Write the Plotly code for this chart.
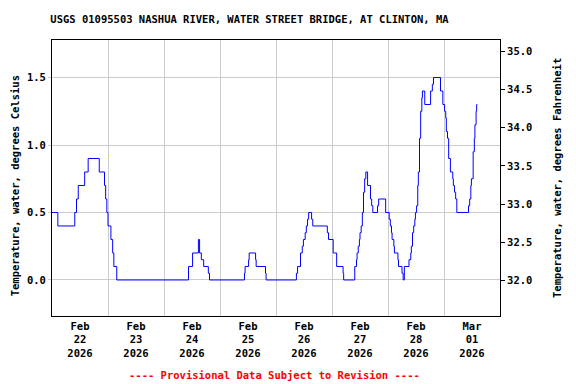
import plotly.graph_objects as go

# Change points of the stepped record (local time) and water temperature (deg C)
times = [
    "2026-02-22 00:00", "2026-02-22 02:30", "2026-02-22 09:45", "2026-02-22 10:30",
    "2026-02-22 11:15", "2026-02-22 14:00", "2026-02-22 15:30", "2026-02-22 20:15",
    "2026-02-22 22:30", "2026-02-22 23:00", "2026-02-22 23:30", "2026-02-23 00:00",
    "2026-02-23 01:15", "2026-02-23 02:00", "2026-02-23 02:30", "2026-02-23 03:45",
    "2026-02-24 10:30", "2026-02-24 12:15", "2026-02-24 14:45", "2026-02-24 15:15",
    "2026-02-24 16:00", "2026-02-24 17:00", "2026-02-24 19:00", "2026-02-24 19:30",
    "2026-02-25 10:30", "2026-02-25 10:45", "2026-02-25 12:15", "2026-02-25 12:30",
    "2026-02-25 15:15", "2026-02-25 15:30", "2026-02-25 19:30", "2026-02-25 19:45",
    "2026-02-26 08:45", "2026-02-26 09:15", "2026-02-26 10:30", "2026-02-26 11:15",
    "2026-02-26 11:45", "2026-02-26 12:30", "2026-02-26 13:00", "2026-02-26 13:30",
    "2026-02-26 14:00", "2026-02-26 15:15", "2026-02-26 15:45", "2026-02-26 22:00",
    "2026-02-26 22:30", "2026-02-27 00:30", "2026-02-27 02:00", "2026-02-27 04:45",
    "2026-02-27 05:00", "2026-02-27 09:45", "2026-02-27 10:30", "2026-02-27 10:45",
    "2026-02-27 11:15", "2026-02-27 11:45", "2026-02-27 12:00", "2026-02-27 12:30",
    "2026-02-27 13:00", "2026-02-27 13:30", "2026-02-27 14:00", "2026-02-27 14:30",
    "2026-02-27 15:15", "2026-02-27 16:30", "2026-02-27 17:00", "2026-02-27 17:30",
    "2026-02-27 19:30", "2026-02-27 20:00", "2026-02-27 23:00", "2026-02-28 00:30",
    "2026-02-28 01:00", "2026-02-28 01:30", "2026-02-28 01:45", "2026-02-28 02:30",
    "2026-02-28 02:45", "2026-02-28 04:15", "2026-02-28 04:30", "2026-02-28 06:00",
    "2026-02-28 06:30", "2026-02-28 07:00", "2026-02-28 09:00", "2026-02-28 09:45",
    "2026-02-28 10:00", "2026-02-28 10:30", "2026-02-28 11:00", "2026-02-28 11:30",
    "2026-02-28 11:45", "2026-02-28 12:15", "2026-02-28 12:45", "2026-02-28 13:00",
    "2026-02-28 13:30", "2026-02-28 14:00", "2026-02-28 14:30", "2026-02-28 14:45",
    "2026-02-28 15:45", "2026-02-28 18:15", "2026-02-28 19:00", "2026-02-28 19:30",
    "2026-02-28 22:30", "2026-02-28 23:30", "2026-03-01 00:15", "2026-03-01 00:45",
    "2026-03-01 01:00", "2026-03-01 01:30", "2026-03-01 02:00", "2026-03-01 02:45",
    "2026-03-01 03:45", "2026-03-01 04:00", "2026-03-01 04:30", "2026-03-01 05:00",
    "2026-03-01 05:30", "2026-03-01 10:30", "2026-03-01 11:00", "2026-03-01 11:30",
    "2026-03-01 11:45", "2026-03-01 12:30", "2026-03-01 13:00", "2026-03-01 13:15",
    "2026-03-01 13:45", "2026-03-01 14:00", "2026-03-01 14:15",
]
temp_c = [
    0.5, 0.4, 0.5, 0.6,
    0.7, 0.8, 0.9, 0.8,
    0.7, 0.6, 0.5, 0.4,
    0.3, 0.2, 0.1, 0.0,
    0.1, 0.2, 0.3, 0.2,
    0.15, 0.1, 0.05, 0.0,
    0.05, 0.1, 0.15, 0.2,
    0.15, 0.1, 0.05, 0.0,
    0.05, 0.1, 0.2, 0.25,
    0.3, 0.35, 0.4, 0.45,
    0.5, 0.45, 0.4, 0.35,
    0.3, 0.2, 0.1, 0.05,
    0.0, 0.1, 0.15, 0.2,
    0.25, 0.3, 0.35, 0.4,
    0.5, 0.65, 0.75, 0.8,
    0.7, 0.6, 0.55, 0.5,
    0.55, 0.6, 0.5, 0.45,
    0.4, 0.35, 0.3, 0.25,
    0.2, 0.15, 0.1, 0.05,
    0.0, 0.1, 0.15, 0.2,
    0.25, 0.35, 0.4, 0.45,
    0.5, 0.55, 0.7, 0.8,
    1.05, 1.25, 1.35, 1.4,
    1.3, 1.4, 1.45, 1.5,
    1.4, 1.3, 1.25, 1.2,
    1.1, 1.05, 0.9, 0.8,
    0.75, 0.7, 0.65, 0.6,
    0.5, 0.55, 0.6, 0.7,
    0.75, 0.95, 1.05, 1.15,
    1.25, 1.3, 1.3,
]
temp_f = [c * 1.8 + 32 for c in temp_c]

tick_dates = ["2026-02-22 12:00", "2026-02-23 12:00", "2026-02-24 12:00", "2026-02-25 12:00",
              "2026-02-26 12:00", "2026-02-27 12:00", "2026-02-28 12:00", "2026-03-01 12:00"]
tick_labels = ["Feb<br>22<br>2026", "Feb<br>23<br>2026", "Feb<br>24<br>2026", "Feb<br>25<br>2026",
               "Feb<br>26<br>2026", "Feb<br>27<br>2026", "Feb<br>28<br>2026", "Mar<br>01<br>2026"]
c_ticks = [0.0, 0.5, 1.0, 1.5]
f_ticks = [32.0, 32.5, 33.0, 33.5, 34.0, 34.5, 35.0]

FONT = "DejaVu Sans Mono"
fs = 10.5
OFF = 8  # page body margin offset
W, H = 576 - OFF, 384 - OFF

fig = go.Figure()
fig.add_trace(go.Scatter(x=times, y=temp_c, mode="lines", line=dict(color="#0000ff", width=1, shape="hv"),
                         showlegend=False, hoverinfo="x+y"))
fig.add_trace(go.Scatter(x=times, y=temp_f, mode="lines", yaxis="y2", line=dict(color="rgba(0,0,0,0)", width=0, shape="hv"),
                         showlegend=False, hoverinfo="skip"))

fig.update_layout(
    width=W, height=H,
    margin=dict(l=52 - OFF, r=W - (52 - OFF) - 448, t=40 - OFF, b=68, pad=0),
    paper_bgcolor="white", plot_bgcolor="white",
    font=dict(family=FONT, size=fs, color="black", weight="bold"),
    title=dict(text="USGS 01095503 NASHUA RIVER, WATER STREET BRIDGE, AT CLINTON, MA",
               x=(249.5 - OFF) / W, xref="container", xanchor="center",
               y=1 - (19 - OFF) / H, yref="container", yanchor="middle",
               font=dict(family=FONT, size=fs, color="black", weight="bold")),
    xaxis=dict(type="date", range=["2026-02-22 00:00", "2026-03-02 00:00"],
               tickmode="array", tickvals=tick_dates, ticktext=tick_labels,
               showgrid=False, ticks="", showline=True, linecolor="black", linewidth=1, mirror=True,
               minor=dict(dtick=86400000, tick0="2026-02-22", showgrid=True, gridcolor="#cccccc", gridwidth=1, ticks=""),
               zeroline=False, fixedrange=True, automargin=False),
    yaxis=dict(range=[-0.267, 1.778], tickmode="array", tickvals=c_ticks, tickformat=".1f",
               showgrid=True, gridcolor="#cccccc", gridwidth=1, ticks="outside", ticklen=3, tickcolor="#cccccc",
               showline=True, linecolor="black", linewidth=1, mirror=True, zeroline=False, fixedrange=True,
               automargin=False),
    yaxis2=dict(range=[31.539, 35.144], overlaying="y", side="right", tickmode="array", tickvals=f_ticks,
                tickformat=".1f", showgrid=False, ticks="outside", ticklen=4, tickcolor="black",
                showline=False, zeroline=False, fixedrange=True, automargin=False),
    annotations=[
        dict(text="Temperature, water, degrees Celsius", xref="paper", yref="paper",
             x=(15 - 52) / 448, y=0.47, textangle=-90, showarrow=False, xanchor="center", yanchor="middle",
             font=dict(family=FONT, size=fs, color="black", weight="bold")),
        dict(text="Temperature, water, degrees Fahrenheit", xref="paper", yref="paper",
             x=(557 - 52) / 448, y=0.5, textangle=-90, showarrow=False, xanchor="center", yanchor="middle",
             font=dict(family=FONT, size=fs, color="black", weight="bold")),
        dict(text="---- Provisional Data Subject to Revision ----", xref="paper", yref="paper",
             x=(274 - 52) / 448, y=-(375 - 316) / 276, showarrow=False, xanchor="center", yanchor="middle",
             font=dict(family=FONT, size=fs, color="red", weight="bold")),
    ],
)

fig.write_html("out.html")
